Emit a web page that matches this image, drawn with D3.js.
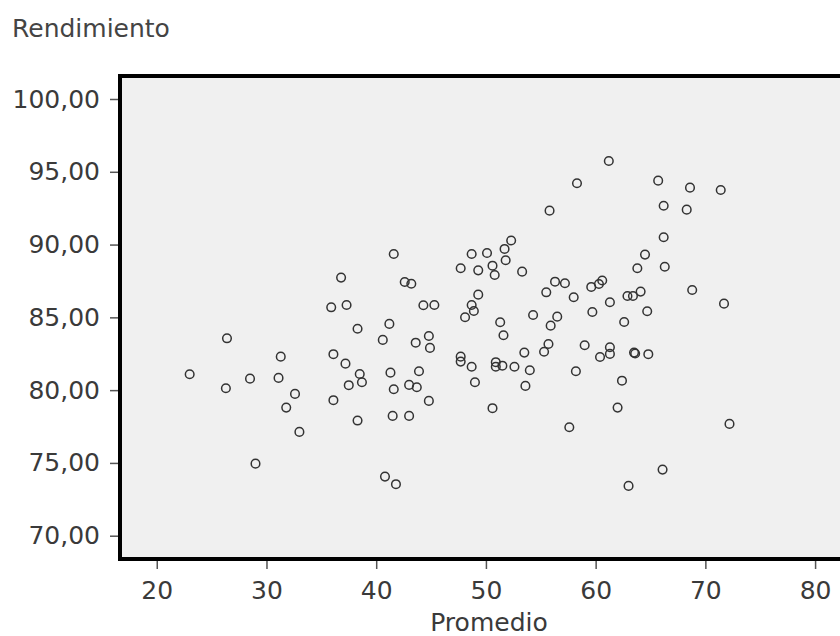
<!DOCTYPE html>
<html>
<head>
<meta charset="utf-8">
<script src="https://cdn.jsdelivr.net/npm/d3@7"></script>
<style>
  body { margin: 0; background: #fff; }
  svg { display: block; }
  text { font-family: Verdana, "DejaVu Sans", sans-serif; }
</style>
</head>
<body>
<div id="chart"></div>
<script>
const promedio = [
  23.0, 26.3, 26.4, 28.5, 29.0, 31.3, 31.1, 31.8, 32.6, 33.0,
  36.8, 35.9, 37.3, 38.3, 36.1, 37.2, 38.5, 38.7, 37.5, 36.1, 38.3,
  41.6, 41.2, 40.6, 42.6, 43.2, 44.3, 45.3, 43.6, 44.8, 44.9,
  41.3, 43.9, 41.6, 43.0, 43.7, 44.8, 41.5, 43.0,
  47.7, 48.7, 49.3, 50.1, 51.7, 52.3, 51.8, 50.6, 50.8, 53.3,
  49.3, 48.7, 48.9, 48.1, 51.3, 51.6, 47.7, 47.7, 48.7, 49.0,
  50.9, 50.9, 51.5, 52.6, 54.0, 53.5, 53.6, 50.6,
  54.3, 55.5, 56.3, 57.2, 58.0, 56.5, 55.9, 55.7, 55.3, 59.0, 58.2, 59.7,
  61.2, 65.7, 68.6, 71.4, 66.2, 68.3, 66.2, 64.5, 63.8, 66.3, 68.8, 71.7,
  59.6, 60.3, 60.6, 62.9, 63.4, 64.1, 61.3, 64.7, 62.6,
  61.3, 61.3, 60.4, 63.5, 63.6, 64.8, 62.4, 62.0, 72.2,
  57.6, 40.8, 41.8, 66.1, 63.0, 55.8, 58.3
];
const rendimiento = [
  81.09, 80.13, 83.56, 80.79, 74.95, 82.30, 80.84, 78.80, 79.74, 77.13,
  87.73, 85.69, 85.85, 84.22, 82.47, 81.82, 81.11, 80.54, 80.34, 79.31, 77.91,
  89.35, 84.55, 83.45, 87.43, 87.31, 85.83, 85.85, 83.26, 83.72, 82.90,
  81.20, 81.30, 80.06, 80.36, 80.20, 79.26, 78.23, 78.23,
  88.37, 89.35, 88.23, 89.42, 89.70, 90.28, 88.92, 88.55, 87.91, 88.14,
  86.56, 85.85, 85.44, 85.01, 84.66, 83.77, 82.30, 81.96, 81.61, 80.54,
  81.92, 81.61, 81.68, 81.61, 81.37, 82.58, 80.29, 78.76,
  85.16, 86.72, 87.45, 87.34, 86.38, 85.05, 84.43, 83.17, 82.64, 83.08, 81.30, 85.37,
  95.74, 94.39, 93.91, 93.75, 92.67, 92.40, 90.50, 89.31, 88.37, 88.48, 86.88, 85.94,
  87.09, 87.29, 87.53, 86.47, 86.47, 86.77, 86.04, 85.42, 84.68,
  82.95, 82.49, 82.28, 82.58, 82.52, 82.47, 80.65, 78.80, 77.68,
  77.45, 74.06, 73.54, 74.54, 73.42, 92.33, 94.21
];
const xTicks = [20, 30, 40, 50, 60, 70, 80];
const yTicks = [70, 75, 80, 85, 90, 95, 100];

const esES = d3.formatLocale({ decimal: ",", thousands: ".", grouping: [3], currency: ["", " €"] });
const fmtY = esES.format(".2f");

const W = 840, H = 636;
const plot = { left: 120, top: 76, right: 848, bottom: 559 };

const svg = d3.select("#chart").append("svg")
    .attr("width", W)
    .attr("height", H);

const x = d3.scaleLinear()
    .domain([16.65, 83.0])
    .range([plot.left, plot.right]);

const y = d3.scaleLinear()
    .domain([68.4, 101.58])
    .range([plot.bottom, plot.top]);

// plot background
svg.append("rect")
    .attr("x", plot.left)
    .attr("y", plot.top)
    .attr("width", plot.right - plot.left)
    .attr("height", plot.bottom - plot.top)
    .attr("fill", "#f0f0f0");

// axes
const yAxis = svg.append("g")
    .attr("transform", `translate(${plot.left}, 0)`)
    .call(d3.axisLeft(y).tickValues(yTicks).tickFormat(fmtY).tickSize(10).tickPadding(10));

const xAxis = svg.append("g")
    .attr("transform", `translate(0, ${plot.bottom})`)
    .call(d3.axisBottom(x).tickValues(xTicks).tickFormat(d3.format("d")).tickSize(10).tickPadding(12));

[yAxis, xAxis].forEach(a => {
    a.select(".domain").remove();
    a.selectAll(".tick line").attr("stroke", "#555").attr("stroke-width", 1.5);
    a.selectAll(".tick text")
        .attr("fill", "#3a3a3a")
        .style("font-size", "25px");
});

// points
svg.append("g")
    .selectAll("circle")
    .data(promedio)
    .enter()
    .append("circle")
    .attr("cx", d => x(d))
    .attr("cy", (d, i) => y(rendimiento[i]))
    .attr("r", 4.3)
    .attr("fill", "none")
    .attr("stroke", "#333")
    .attr("stroke-width", 1.5);

// frame
svg.append("rect")
    .attr("x", plot.left)
    .attr("y", plot.top)
    .attr("width", plot.right - plot.left)
    .attr("height", plot.bottom - plot.top)
    .attr("fill", "none")
    .attr("stroke", "#000")
    .attr("stroke-width", 4);

// titles
svg.append("text")
    .attr("x", 12)
    .attr("y", 37)
    .attr("fill", "#444")
    .style("font-size", "25px")
    .text("Rendimiento");

svg.append("text")
    .attr("x", 489)
    .attr("y", 631)
    .attr("text-anchor", "middle")
    .attr("fill", "#3a3a3a")
    .style("font-size", "25px")
    .text("Promedio");
</script>
</body>
</html>
